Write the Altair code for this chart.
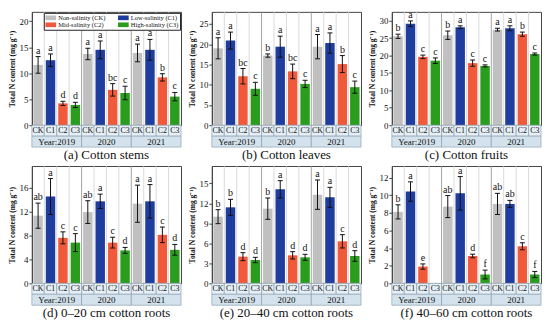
import altair as alt
import pandas as pd

years = ["2019", "2020", "2021"]
treatments = ["CK", "C1", "C2", "C3"]
series_names = ["Non-salinity (CK)", "Low-salinity (C1)", "Mid-salinity (C2)", "High-salinity (C3)"]
colors = ["#c0c0c0", "#1f3d9e", "#f05a3a", "#2a9d1f"]
year_labels = ["Year:2019", "2020", "2021"]

# (a) Cotton stems
stems_mean = [11.6, 12.5, 4.2, 3.9, 13.7, 14.5, 6.8, 6.2, 13.9, 14.5, 9.2, 5.5]
stems_err = [1.6, 1.2, 0.4, 0.5, 1.1, 1.7, 1.2, 1.3, 1.7, 2.0, 0.7, 0.8]
stems_let = ["a", "a", "d", "d", "a", "a", "bc", "c", "a", "a", "b", "c"]
# (b) Cotton leaves
leaves_mean = [19.0, 20.9, 12.1, 9.0, 17.2, 19.4, 13.3, 10.2, 19.4, 20.3, 15.1, 9.4]
leaves_err = [2.6, 2.1, 1.9, 1.6, 0.4, 2.6, 1.8, 0.9, 3.0, 2.5, 2.1, 1.5]
leaves_let = ["a", "a", "bc", "c", "b", "a", "bc", "c", "a", "a", "b", "c"]
# (c) Cotton fruits
fruits_mean = [25.5, 29.1, 19.6, 18.5, 25.8, 28.1, 17.8, 17.0, 27.4, 27.8, 26.1, 20.4]
fruits_err = [0.6, 0.8, 0.5, 0.8, 1.2, 0.4, 0.9, 0.3, 0.4, 0.7, 0.6, 0.3]
fruits_let = ["b", "a", "c", "c", "b", "a", "c", "c", "a", "a", "b", "c"]
# (d) 0-20 cm roots
r1_mean = [11.3, 14.5, 7.6, 6.8, 11.9, 13.7, 6.8, 5.5, 13.3, 13.7, 8.1, 5.6]
r1_err = [2.1, 3.0, 1.0, 1.5, 1.9, 1.2, 0.9, 0.5, 3.1, 2.8, 1.3, 0.9]
r1_let = ["ab", "a", "c", "c", "ab", "a", "c", "d", "a", "a", "c", "d"]
# (e) 20-40 cm roots
r2_mean = [10.0, 11.4, 4.0, 3.5, 11.2, 14.1, 4.2, 3.9, 13.3, 12.9, 6.3, 4.1]
r2_err = [1.05, 1.2, 0.6, 0.4, 1.6, 1.3, 0.55, 0.45, 2.2, 1.5, 1.0, 0.8]
r2_let = ["b", "b", "d", "d", "b", "a", "d", "d", "a", "a", "c", "d"]
# (f) 40-60 cm roots
r3_mean = [8.1, 10.4, 1.9, 0.0, 8.7, 10.2, 3.1, 1.0, 9.0, 9.0, 4.2, 1.0]
r3_err = [0.8, 1.1, 0.3, 0.0, 1.25, 1.9, 0.2, 0.5, 1.2, 0.4, 0.4, 0.35]
r3_let = ["b", "a", "e", "", "ab", "a", "d", "f", "ab", "ab", "c", "f"]

FONT = "Liberation Serif"
W = 150


def panel(mean, err, lets, caption, ymax, yticks, H, show_legend=False):
    rows = []
    for i in range(12):
        rows.append(dict(idx=i, year=years[i // 4], trt=treatments[i % 4],
                         series=series_names[i % 4],
                         mean=mean[i], lo=mean[i] - err[i], hi=mean[i] + err[i],
                         letter=lets[i], xb0=i + 0.12, xb1=i + 0.88, xc=i + 0.5,
                         xk0=i + 0.3, xk1=i + 0.7, x1=i + 1))
    df = pd.DataFrame(rows)
    dfe = df[df["mean"] > 0]
    xs = alt.Scale(domain=[0, 12], nice=False, zero=False)
    ys = alt.Scale(domain=[0, ymax], nice=False, zero=True)
    yaxis = alt.Axis(values=yticks, title="Total N content (mg g⁻¹)", grid=False,
                     labelFont=FONT, labelFontSize=9, labelColor="#111", titleFont=FONT,
                     titleFontSize=7.5, titleFontWeight="bold", titleColor="#111",
                     tickSize=3, tickColor="#444", domainColor="#444", labelPadding=1,
                     titlePadding=2)

    def Y(field):
        return alt.Y(field, scale=ys, axis=yaxis)

    base = alt.Chart(df)

    minor = pd.DataFrame({"p": [1, 2, 3, 5, 6, 7, 9, 10, 11]})
    major = pd.DataFrame({"p": [4, 8]})
    sep_minor = alt.Chart(minor).mark_rule(color="#d0d0d0", strokeWidth=0.8).encode(
        x=alt.X("p:Q", scale=xs, axis=None), y=alt.value(0), y2=alt.value(H + 11))
    sep_major = alt.Chart(major).mark_rule(color="#8c8c8c", strokeWidth=0.8).encode(
        x=alt.X("p:Q", scale=xs, axis=None), y=alt.value(0), y2=alt.value(H + 22))

    legend = None
    if show_legend:
        legend = alt.Legend(orient="top-right", columns=2, direction="horizontal",
                            title=None, offset=1,
                            symbolType="M-1.6,-0.7H1.6V0.7H-1.6Z", symbolSize=45,
                            symbolStrokeWidth=0, labelFont=FONT, labelFontSize=6.5,
                            labelColor="#111",
                            fillColor="white", strokeColor="#222", padding=1.5,
                            rowPadding=0, columnPadding=12, labelLimit=80,
                            symbolOffset=2)
    bars = base.mark_rect().encode(
        x=alt.X("xb0:Q", scale=xs, axis=None), x2="xb1:Q",
        y=Y("mean:Q"),
        y2=alt.datum(0),
        color=alt.Color("series:N", scale=alt.Scale(domain=series_names, range=colors),
                        legend=legend))
    ebar = alt.Chart(dfe).mark_rule(color="#111", strokeWidth=1).encode(
        x=alt.X("xc:Q", scale=xs, axis=None), y=Y("lo:Q"), y2="hi:Q")
    cap_hi = alt.Chart(dfe).mark_rule(color="#111", strokeWidth=1).encode(
        x=alt.X("xk0:Q", scale=xs, axis=None), x2="xk1:Q", y=Y("hi:Q"))
    cap_lo = alt.Chart(dfe).mark_rule(color="#111", strokeWidth=1).encode(
        x=alt.X("xk0:Q", scale=xs, axis=None), x2="xk1:Q", y=Y("lo:Q"))
    letters = base.mark_text(font=FONT, fontSize=10, baseline="bottom", dy=-1, color="#111").encode(
        x=alt.X("xc:Q", scale=xs, axis=None), y=Y("hi:Q"), text="letter:N")

    trow = base.mark_rect(fill="#e6eff6", stroke="#8fa3b3", strokeWidth=0.7).encode(
        x=alt.X("idx:Q", scale=xs, axis=None), x2="x1:Q", y=alt.value(H), y2=alt.value(H + 11))
    ttext = base.mark_text(font=FONT, fontSize=8, baseline="middle", color="#111").encode(
        x=alt.X("xc:Q", scale=xs, axis=None), y=alt.value(H + 6), text="trt:N")

    ydf = pd.DataFrame({"label": year_labels, "s": [0, 4, 8], "e": [4, 8, 12], "c": [2, 6, 10]})
    yrow = alt.Chart(ydf).mark_rect(fill="#d3e2ec", stroke="#8fa3b3", strokeWidth=0.7).encode(
        x=alt.X("s:Q", scale=xs, axis=None), x2="e:Q", y=alt.value(H + 11), y2=alt.value(H + 22))
    ytext = alt.Chart(ydf).mark_text(font=FONT, fontSize=9, baseline="middle", color="#111").encode(
        x=alt.X("c:Q", scale=xs, axis=None), y=alt.value(H + 17), text="label:N")

    cap = alt.Chart(pd.DataFrame({"t": [caption]})).mark_text(
        font=FONT, fontSize=13, baseline="middle", color="#111").encode(
        x=alt.value(W / 2), y=alt.value(H + 30), text="t:N")

    return alt.layer(sep_minor, bars, sep_major, ebar, cap_hi, cap_lo, letters,
                     trow, ttext, yrow, ytext, cap).properties(width=W, height=H)


H1, H2 = 114, 118
pa = panel(stems_mean, stems_err, stems_let, "(a) Cotton stems", 21.8, [0, 5, 10, 15, 20], H1, True)
pb = panel(leaves_mean, leaves_err, leaves_let, "(b) Cotton leaves", 28, [0, 5, 10, 15, 20, 25], H1)
pc = panel(fruits_mean, fruits_err, fruits_let, "(c) Cotton fruits", 32.5, [0, 5, 10, 15, 20, 25, 30], H1)
pd_ = panel(r1_mean, r1_err, r1_let, "(d) 0–20 cm cotton roots", 19.6, [0, 4, 8, 12, 16], H2)
pe = panel(r2_mean, r2_err, r2_let, "(e) 20–40 cm cotton roots", 17.6, [0, 3, 6, 9, 12, 15], H2)
pf = panel(r3_mean, r3_err, r3_let, "(f) 40–60 cm cotton roots", 13.3, [0, 2, 4, 6, 8, 10, 12], H2)

row1 = alt.hconcat(pa, pb, pc, spacing=6).resolve_scale(color="independent")
row2 = alt.hconcat(pd_, pe, pf, spacing=6).resolve_scale(color="independent")
chart = alt.vconcat(row1, row2, spacing=2).resolve_scale(color="independent").properties(
    padding=0, background="white"
).configure(font=FONT).configure_view(stroke="#444", strokeWidth=1)

chart.save("out.html", embed_options={"renderer": "svg", "actions": False})
